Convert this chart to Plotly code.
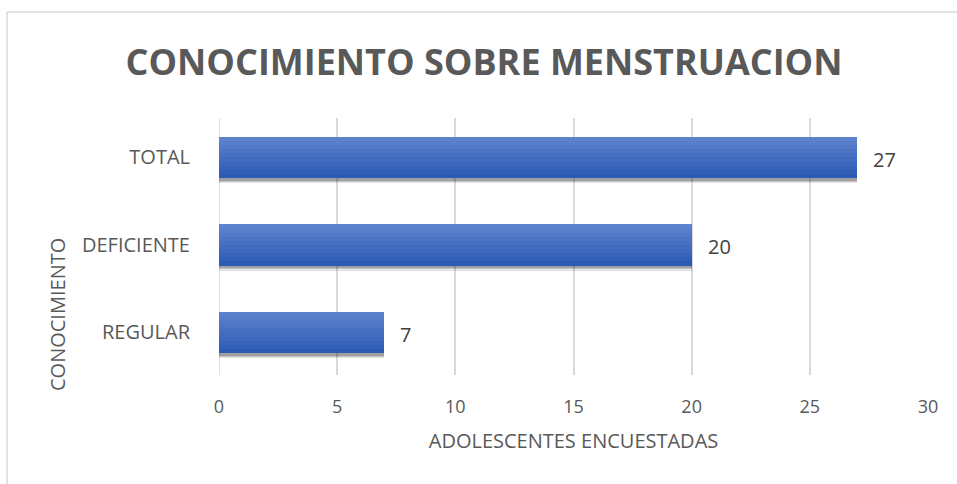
import plotly.graph_objects as go

categories = ["REGULAR", "DEFICIENTE", "TOTAL"]
values = [7, 20, 27]
x_ticks = [0, 5, 10, 15, 20, 25, 30]

title_text = "CONOCIMIENTO SOBRE MENSTRUACION"
x_title = "ADOLESCENTES ENCUESTADAS"
y_title = "CONOCIMIENTO"

W, H = 957, 484
L, R, T, B = 219, 29, 118, 109
pw, ph = W - L - R, H - T - B

def px_x(px):
    return (px - L) / pw

def px_y(py):
    return (H - B - py) / ph

fig = go.Figure()

bw = 0.47
# soft shadow
for s, a in [(0.06, 0.10), (0.045, 0.14), (0.03, 0.18)]:
    fig.add_trace(go.Bar(
        x=values, y=categories, orientation="h", width=bw, offset=-bw / 2 - s,
        marker=dict(color="rgba(0,0,0,%.2f)" % a, line=dict(width=0)),
        hoverinfo="skip", showlegend=False))

# gradient bands (dark bottom -> light top)
dark = (44, 90, 180)
light = (92, 130, 206)
N = 10
for i in range(N):
    t = i / (N - 1)
    c = tuple(round(dark[k] + (light[k] - dark[k]) * t) for k in range(3))
    fig.add_trace(go.Bar(
        x=values, y=categories, orientation="h",
        width=bw * (1 - i / N), offset=-bw / 2 + bw * i / N,
        marker=dict(color="rgb(%d,%d,%d)" % c, line=dict(width=0)),
        showlegend=False))

for v, c in zip(values, categories):
    fig.add_annotation(x=v, y=c, text=str(v), showarrow=False, xanchor="left",
                       xshift=14, yshift=-2,
                       font=dict(family="Open Sans", size=20, color="#404040"))

fig.add_annotation(x=px_x(57), y=px_y(315), xref="paper", yref="paper", text=y_title,
                   textangle=-90, showarrow=False, xanchor="center", yanchor="middle",
                   font=dict(family="Open Sans", size=20, color="#595959"))

# chart frame (top and left edges visible)
fig.add_shape(type="line", xref="paper", yref="paper", x0=px_x(7), x1=px_x(960),
              y0=px_y(12), y1=px_y(12), line=dict(color="#d9d9d9", width=1.5))
fig.add_shape(type="line", xref="paper", yref="paper", x0=px_x(7), x1=px_x(7),
              y0=px_y(12), y1=px_y(490), line=dict(color="#d9d9d9", width=1.5))

fig.update_layout(
    width=W, height=H, margin=dict(l=L, r=R, t=T, b=B),
    paper_bgcolor="white", plot_bgcolor="white",
    barmode="overlay", bargap=0,
    title=dict(text="<b>" + title_text + "</b>", x=484 / W, xanchor="center", xref="container",
               y=1 - 62 / H, yanchor="middle", yref="container",
               font=dict(family="Open Sans", size=36, color="#595959")),
    xaxis=dict(range=[0, 30], tickvals=x_ticks, showgrid=True, gridcolor="#d9d9d9",
               gridwidth=1.5, zeroline=False, showline=False, ticks="",
               ticklabelstandoff=19,
               tickfont=dict(family="Open Sans", size=18, color="#595959"),
               title=dict(text=x_title, standoff=16,
                          font=dict(family="Open Sans", size=20, color="#595959"))),
    yaxis=dict(categoryorder="array", categoryarray=categories, showgrid=False,
               range=[-0.486, 2.451],
               zeroline=False, showline=False, ticks="", ticklabelstandoff=28,
               tickfont=dict(family="Open Sans", size=20, color="#595959")),
)
fig.add_vline(x=0, line=dict(color="#d9d9d9", width=1.5), layer="below")

fig.write_html("out.html", config={"displayModeBar": False},
               post_script="document.body.style.margin='0';document.body.style.overflow='hidden';")
